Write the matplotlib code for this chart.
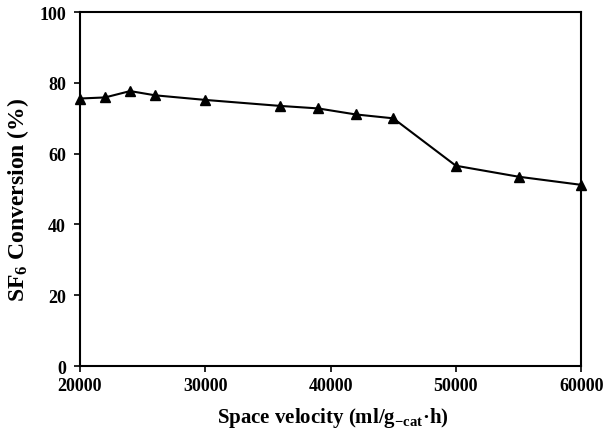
import matplotlib
matplotlib.use("Agg")
import matplotlib.pyplot as plt

# Space velocity (ml/g-cat h) vs SF6 conversion (%)
space_velocity = [20000, 22000, 24000, 26000, 30000, 36000, 39000,
                  42000, 45000, 50000, 55000, 60000]
conversion = [75.6, 75.9, 77.7, 76.5, 75.2, 73.5, 72.8,
              71.1, 70.0, 56.6, 53.5, 51.2]

x_ticks = [20000, 30000, 40000, 50000, 60000]
y_ticks = [0, 20, 40, 60, 80, 100]

plt.rcParams['font.family'] = ['Liberation Serif', 'DejaVu Serif']
plt.rcParams['font.weight'] = 'bold'
plt.rcParams['mathtext.fontset'] = 'custom'
plt.rcParams['mathtext.rm'] = 'Liberation Serif:bold'
plt.rcParams['mathtext.it'] = 'Liberation Serif:bold'
plt.rcParams['mathtext.bf'] = 'Liberation Serif:bold'

fig = plt.figure(figsize=(6.06, 4.39), dpi=100)
ax = fig.add_axes([0.132, 0.164, 0.827, 0.806])

ax.plot(space_velocity, conversion, color='black', linewidth=1.5,
        marker='^', markersize=7.5, clip_on=False, zorder=3)

ax.set_xlim(20000, 60000)
ax.set_ylim(0, 100)
ax.set_xticks(x_ticks)
ax.set_yticks(y_ticks)
ax.tick_params(direction='out', length=4, width=1.2, labelsize=13)
ax.tick_params(axis='x', pad=4)
ax.tick_params(axis='y', pad=6)
for lab in ax.get_xticklabels() + ax.get_yticklabels():
    lab.set_fontweight('bold')

for sp in ax.spines.values():
    sp.set_linewidth(1.5)

ax.set_xlabel('Space velocity (ml/g$_{\\mathrm{-cat}}$\u00b7h)', fontsize=15,
              fontweight='bold')
ax.set_ylabel('SF$_{\\mathrm{6}}$ Conversion (%)', fontsize=17,
              fontweight='bold')
ax.xaxis.set_label_coords(0.505, -0.11)
ax.yaxis.set_label_coords(-0.097, 0.472)

fig.savefig('out.png', dpi=100)
